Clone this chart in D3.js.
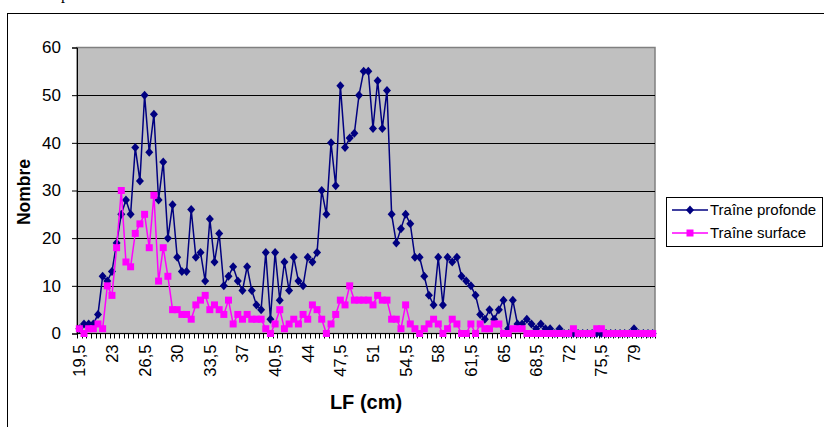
<!DOCTYPE html>
<html><head><meta charset="utf-8">
<script src="https://cdn.jsdelivr.net/npm/d3@7"></script>
<style>body{margin:0;background:#fff}svg{display:block}</style>
</head><body><svg id="c" width="824" height="427"></svg>
<script>
const categories = ["19,5","20","20,5","21","21,5","22","22,5","23","23,5","24","24,5","25","25,5","26","26,5","27","27,5","28","28,5","29","29,5","30","30,5","31","31,5","32","32,5","33","33,5","34","34,5","35","35,5","36","36,5","37","37,5","38","38,5","39","39,5","40","40,5","41","41,5","42","42,5","43","43,5","44","44,5","45","45,5","46","46,5","47","47,5","48","48,5","49","49,5","50","50,5","51","51,5","52","52,5","53","53,5","54","54,5","55","55,5","56","56,5","57","57,5","58","58,5","59","59,5","60","60,5","61","61,5","62","62,5","63","63,5","64","64,5","65","65,5","66","66,5","67","67,5","68","68,5","69","69,5","70","70,5","71","71,5","72","72,5","73","73,5","74","74,5","75","75,5","76","76,5","77","77,5","78","78,5","79","79,5","80","80,5","81"];
const trainePro = [1,2,2,2,4,12,11,13,19,25,28,25,39,32,50,38,46,28,36,20,27,16,13,13,26,16,17,11,24,15,21,10,12,14,11,9,14,9,6,5,17,3,17,7,15,9,16,11,10,16,15,17,30,25,40,31,52,39,41,42,50,55,55,43,53,43,51,25,19,22,25,23,16,16,12,8,6,16,6,16,15,16,12,11,10,8,4,3,5,3,5,7,1,7,2,2,3,2,1,2,1,1,0,1,0,0,0,0,0,0,0,0,0,0,0,0,0,0,0,1,0,0,0,0];
const traineSurf = [1,0,1,1,2,1,10,8,18,30,15,14,21,23,25,18,29,11,18,12,5,5,4,4,3,6,7,8,5,6,5,4,7,2,4,3,4,3,3,3,1,0,2,5,1,2,3,2,4,3,6,5,3,0,2,4,7,6,10,7,7,7,7,6,8,7,7,3,3,1,6,2,1,0,1,2,3,2,0,1,3,2,0,0,2,0,2,1,1,2,2,0,0,1,1,1,0,0,0,0,0,0,0,0,0,0,1,0,0,0,0,1,1,0,0,0,0,0,0,0,0,0,0,0];
const tickLabels = ["19,5","23","26,5","30","33,5","37","40,5","44","47,5","51","54,5","58","61,5","65","68,5","72","75,5","79"];
const yTicks = [0,10,20,30,40,50,60];
const seriesNames = ["Traîne profonde","Traîne surface"];
const seriesColors = ["#000080","#FF00FF"];

const svg = d3.select("#c");
const font = "Arial, 'Liberation Sans', sans-serif";
svg.append("rect").attr("width",824).attr("height",427).attr("fill","#fff");
svg.append("rect").attr("x",7.5).attr("y",13.5).attr("width",840).attr("height",440)
  .attr("fill","none").attr("stroke","#000").attr("stroke-width",1);
svg.append("text").attr("x",61).attr("y",-1).attr("font-family","'Liberation Serif', serif").attr("font-size",16).text("p");

const L=77, R=655, T=47.5, B=333.5;
const x = d3.scaleBand().domain(categories).range([L,R]).padding(0);
const y = d3.scaleLinear().domain([0,60]).range([B,T]);
const cx = c => x(c) + x.bandwidth()/2;

svg.append("rect").attr("x",L).attr("y",T).attr("width",R-L).attr("height",B-T)
  .attr("fill","#C0C0C0").attr("stroke","#808080").attr("stroke-width",1.5);
svg.selectAll(".grid").data(yTicks.filter(v=>v>0&&v<60)).enter().append("line")
  .attr("x1",L).attr("x2",R).attr("y1",d=>Math.round(y(d))+0.5).attr("y2",d=>Math.round(y(d))+0.5)
  .attr("stroke","#000").attr("stroke-width",1);

// y axis
const ya = svg.append("g").attr("transform",`translate(${L},0)`)
  .call(d3.axisLeft(y).tickValues(yTicks).tickSize(5).tickFormat(d3.format("d")));
ya.select(".domain").attr("stroke","#000");
ya.selectAll("line").attr("stroke","#000");
ya.selectAll("text").attr("font-family",font).attr("font-size",17).attr("fill","#000").attr("x",-16);

// x axis
svg.append("line").attr("x1",L).attr("x2",R).attr("y1",B).attr("y2",B).attr("stroke","#000");
const bounds = categories.map(c=>x(c)).concat([R]);
svg.selectAll(".xt").data(bounds).enter().append("line")
  .attr("x1",d=>Math.round(d)+0.5).attr("x2",d=>Math.round(d)+0.5).attr("y1",B).attr("y2",B+5)
  .attr("stroke","#000");
svg.selectAll(".xl").data(tickLabels).enter().append("text")
  .attr("transform",d=>`translate(${cx(d)+6},${B+11}) rotate(-90)`)
  .attr("text-anchor","end").attr("font-family",font).attr("font-size",16.5).text(d=>d);

svg.append("text").attr("x",366).attr("y",409).attr("text-anchor","middle")
  .attr("font-family",font).attr("font-weight","bold").attr("font-size",20).text("LF (cm)");
svg.append("text").attr("transform","translate(30,192) rotate(-90)").attr("text-anchor","middle")
  .attr("font-family",font).attr("font-weight","bold").attr("font-size",17.5).text("Nombre");

const diamond = "M0,-4.5L4,0L0,4.5L-4,0Z";
const square = "M-3.5,-3.5H3.5V3.5H-3.5Z";
const line = d3.line().x((d,i)=>cx(categories[i])).y(d=>y(d));
[trainePro, traineSurf].forEach((s,k)=>{
  const g = svg.append("g");
  g.append("path").attr("d",line(s)).attr("fill","none").attr("stroke",seriesColors[k]).attr("stroke-width",1.5);
  g.selectAll("path.m").data(s).enter().append("path").attr("class","m")
    .attr("transform",(d,i)=>`translate(${cx(categories[i])},${y(d)})`)
    .attr("d",k===0?diamond:square).attr("fill",seriesColors[k]);
});

// legend
const lg = svg.append("g");
lg.append("rect").attr("x",666.5).attr("y",197.5).attr("width",156).attr("height",49)
  .attr("fill","#fff").attr("stroke","#000");
seriesNames.forEach((n,k)=>{
  const yy = 210 + k*23;
  lg.append("line").attr("x1",672).attr("x2",708).attr("y1",yy).attr("y2",yy).attr("stroke",seriesColors[k]).attr("stroke-width",1.5);
  lg.append("path").attr("transform",`translate(690,${yy})`).attr("d",k===0?diamond:square).attr("fill",seriesColors[k]);
  lg.append("text").attr("x",710).attr("y",yy+5).attr("font-family",font).attr("font-size",15).text(n);
});
</script></body></html>
